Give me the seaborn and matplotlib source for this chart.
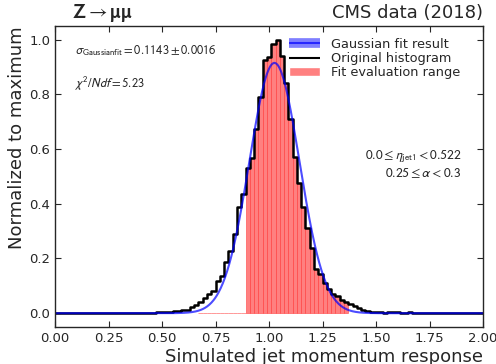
import numpy as np
import pandas as pd
import matplotlib
matplotlib.use("Agg")
import matplotlib.pyplot as plt
import seaborn as sns
from matplotlib.lines import Line2D
from matplotlib.patches import Patch

# ---- data ----
bin_width = 0.02
hist_first_center = 0.40
hist_values = [
    0.001, 0.001, 0.002, 0.002, 0.003, 0.003, 0.004, 0.005, 0.007, 0.008,   # 0.40-0.58
    0.010, 0.012, 0.024, 0.030, 0.040, 0.057, 0.070, 0.082, 0.118, 0.137,   # 0.60-0.78
    0.186, 0.228, 0.289, 0.390, 0.436, 0.530, 0.568, 0.674, 0.790, 0.925,   # 0.80-0.98
    0.935, 0.985, 1.000, 0.940, 0.840, 0.710, 0.570, 0.476, 0.390, 0.313,   # 1.00-1.18
    0.240, 0.160, 0.145, 0.110, 0.088, 0.072, 0.062, 0.048, 0.040, 0.032,   # 1.20-1.38
    0.026, 0.020, 0.013, 0.009, 0.006, 0.004, 0.003, 0.002, 0.004, 0.003,   # 1.40-1.58
    0.003, 0.002, 0.002, 0.003, 0.002, 0.001,                               # 1.60-1.70
]
fit_range_low, fit_range_high = 0.89, 1.37     # red bars with content
fit_zero_low = 0.67                            # red bars drawn with zero height
gauss_mu, gauss_sigma, gauss_amp = 1.025, 0.117, 0.915

sigma_text = r"$\sigma_{\mathrm{Gaussian fit}} = 0.1143 \pm 0.0016$"
chi2_text = r"$\chi^2/Ndf = 5.23$"
eta_text = r"$0.0 \leq \eta_{\mathrm{jet1}} < 0.522$"
alpha_text = r"$0.25 \leq \alpha < 0.3$"

# ---- build tables ----
centers_all = np.round(np.arange(0.0, 2.0001, bin_width), 4)
edges_all = np.round(np.append(centers_all - bin_width / 2, centers_all[-1] + bin_width / 2), 4)
vals_all = np.zeros_like(centers_all)
start = int(round(hist_first_center / bin_width))
vals_all[start:start + len(hist_values)] = hist_values
hist_df = pd.DataFrame({"x": centers_all, "w": vals_all})

red_mask = (centers_all > fit_zero_low) & (centers_all < fit_range_high)
red_df = pd.DataFrame({
    "x": centers_all[red_mask],
    "w": np.where(centers_all[red_mask] > fit_range_low, vals_all[red_mask], 0.0),
})
red_edges = [float(e) for e in edges_all
             if fit_zero_low - 1e-9 <= e <= fit_range_high + 1e-9]
all_edges = [float(e) for e in edges_all]

xs = np.linspace(0, 2, 800)
fit_df = pd.DataFrame({"x": xs,
                       "y": gauss_amp * np.exp(-0.5 * ((xs - gauss_mu) / gauss_sigma) ** 2)})

# ---- plot ----
sns.set_style("ticks")
plt.rcParams["font.family"] = ["DejaVu Sans"]
plt.rcParams["mathtext.fontset"] = "stixsans"

fig = plt.figure(figsize=(4.96, 3.64), dpi=100)
ax = fig.add_axes([0.111, 0.102, 0.863, 0.8266])

sns.histplot(data=red_df, x="x", weights="w", bins=red_edges, element="bars",
             color=(1.0, 0.5, 0.5), alpha=1.0, edgecolor=(1, 0.15, 0.15, 0.6),
             linewidth=0.55, ax=ax)
sns.histplot(data=hist_df, x="x", weights="w", bins=all_edges, element="step",
             fill=False, color="black", linewidth=1.8, ax=ax)
sns.lineplot(data=fit_df, x="x", y="y", color="blue", alpha=0.7, linewidth=1.5, ax=ax)

ax.set_xlim(0, 2)
ax.set_ylim(-0.05, 1.05)
ax.set_xticks(np.arange(0, 2.001, 0.25))
ax.set_yticks(np.arange(0, 1.001, 0.2))
ax.tick_params(direction="in", top=True, right=True, labelsize=9.5, length=4)
for s in ax.spines.values():
    s.set_linewidth(1.0)

ax.set_xlabel("Simulated jet momentum response", fontsize=13, loc="right", labelpad=2)
ax.set_ylabel("Normalized to maximum", fontsize=13, loc="top", labelpad=2)

ax.text(0.04, 1.008, r"$\mathbf{Z}\rightarrow\mathbf{\mu\mu}$", transform=ax.transAxes,
        fontsize=14.5, ha="left", va="bottom")
ax.text(1.0, 1.012, "CMS data (2018)", transform=ax.transAxes,
        fontsize=13, ha="right", va="bottom")

ax.text(0.047, 0.917, sigma_text, transform=ax.transAxes, fontsize=9, va="center", ha="left")
ax.text(0.047, 0.81, chi2_text, transform=ax.transAxes, fontsize=9, va="center", ha="left")
ax.text(0.95, 0.565, eta_text, transform=ax.transAxes, fontsize=9.7, va="center", ha="right")
ax.text(0.95, 0.512, alpha_text, transform=ax.transAxes, fontsize=9.7, va="center", ha="right")

handles = [
    (Line2D([], [], color="blue", alpha=0.5, linewidth=7, solid_capstyle="butt"),
     Line2D([], [], color="blue", alpha=0.7, linewidth=1.5, solid_capstyle="butt")),
    Line2D([], [], color="black", linewidth=1.5, solid_capstyle="butt"),
    Patch(facecolor=(1.0, 0.5, 0.5)),
]
labels = ["Gaussian fit result", "Original histogram", "Fit evaluation range"]
ax.legend(handles, labels, loc="upper right", bbox_to_anchor=(0.958, 0.978), frameon=False,
          fontsize=9.3, handlelength=2.4, handletextpad=0.8, labelspacing=0.1,
          borderaxespad=0.0)

fig.savefig("out.png", dpi=100)
